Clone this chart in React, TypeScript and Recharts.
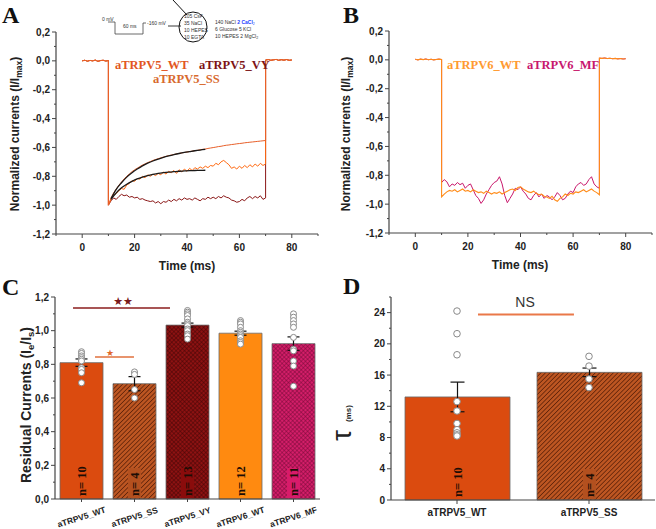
import React from 'react';
import {
  LineChart, Line, XAxis, YAxis, ComposedChart, Bar, Cell, ErrorBar, Scatter, LabelList, ReferenceLine,
} from 'recharts';

const FONT = '"Liberation Sans", Arial, sans-serif';
const SERIF = '"Liberation Serif", "Times New Roman", serif';

// ---------- Panel A / B time bases ----------
const preTimes = [0, 1, 2, 3, 4, 5, 6, 7, 8, 9, 10];
const postTimes = [70, 71, 72, 73, 74, 75, 76, 77, 78, 79, 80];
const pulseTimes = [10, 11, 12, 13, 14, 15, 16, 17, 18, 19, 20, 21, 22, 23, 24, 25, 26, 27, 28, 29, 30,
  31, 32, 33, 34, 35, 36, 37, 38, 39, 40, 41, 42, 43, 44, 45, 46, 47, 48, 49, 50,
  51, 52, 53, 54, 55, 56, 57, 58, 59, 60, 61, 62, 63, 64, 65, 66, 67, 68, 69, 70];

// ---------- Panel A traces ----------
const preA = [0.0, 0.004, -0.002, 0.003, 0.0, 0.005, -0.003, 0.002, 0.004, -0.001, 0.002];
const postA = [0.006, 0.009, 0.004, 0.007, 0.01, 0.004, 0.008, 0.005, 0.009, 0.004, 0.006];
const wt5 = [-1.0, -0.95, -0.915, -0.888, -0.862, -0.84, -0.818, -0.8, -0.784, -0.768, -0.755,
  -0.744, -0.733, -0.722, -0.714, -0.705, -0.698, -0.69, -0.684, -0.678, -0.672,
  -0.667, -0.662, -0.657, -0.653, -0.649, -0.645, -0.641, -0.638, -0.635, -0.632,
  -0.628, -0.626, -0.622, -0.62, -0.616, -0.613, -0.611, -0.607, -0.604, -0.601,
  -0.598, -0.594, -0.592, -0.588, -0.585, -0.583, -0.58, -0.578, -0.575, -0.573,
  -0.571, -0.568, -0.566, -0.564, -0.562, -0.56, -0.558, -0.556, -0.554, -0.552];
const ss5 = [-1.0, -0.96, -0.93, -0.92, -0.9, -0.885, -0.89, -0.86, -0.85, -0.83, -0.835,
  -0.815, -0.82, -0.8, -0.81, -0.79, -0.8, -0.785, -0.795, -0.78, -0.79,
  -0.77, -0.785, -0.765, -0.775, -0.76, -0.78, -0.755, -0.77, -0.75, -0.765,
  -0.745, -0.76, -0.74, -0.75, -0.735, -0.745, -0.73, -0.74, -0.725, -0.73,
  -0.71, -0.72, -0.7, -0.69, -0.705, -0.72, -0.745, -0.735, -0.75, -0.73,
  -0.745, -0.725, -0.74, -0.72, -0.735, -0.715, -0.73, -0.71, -0.725, -0.715];
const vy5 = [-1.0, -0.97, -0.95, -0.96, -0.94, -0.925, -0.935, -0.93, -0.945, -0.94, -0.95,
  -0.945, -0.96, -0.955, -0.965, -0.97, -0.975, -0.97, -0.985, -0.975, -0.99,
  -0.975, -0.98, -0.965, -0.975, -0.96, -0.97, -0.955, -0.965, -0.95, -0.96,
  -0.955, -0.965, -0.95, -0.96, -0.97, -0.955, -0.96, -0.945, -0.955, -0.945,
  -0.955, -0.94, -0.95, -0.935, -0.945, -0.95, -0.965, -0.97, -0.98, -0.975,
  -0.96, -0.97, -0.95, -0.94, -0.955, -0.94, -0.95, -0.935, -0.96, -0.95];
const fitTimesWT = [11, 13, 15, 17, 19, 21, 23, 25, 27, 29, 31, 33, 35, 37, 39, 41, 43, 45, 47];
const fitWT = [-0.955, -0.89, -0.845, -0.806, -0.776, -0.75, -0.728, -0.709, -0.694, -0.681, -0.669,
  -0.659, -0.65, -0.642, -0.635, -0.629, -0.623, -0.618, -0.614];
const fitTimesSS = [11, 13, 15, 17, 19, 21, 23, 25, 27, 29, 31, 33, 35, 37, 39, 41, 43, 45, 47];
const fitSS = [-0.96, -0.915, -0.88, -0.855, -0.835, -0.818, -0.805, -0.795, -0.787, -0.78, -0.775,
  -0.771, -0.768, -0.765, -0.763, -0.761, -0.76, -0.759, -0.758];

// ---------- Panel B traces ----------
const preB = [0.004, 0.0, 0.005, 0.002, 0.006, 0.001, 0.004, 0.0, 0.003, 0.005, 0.002];
const postB = [0.012, 0.01, 0.013, 0.009, 0.011, 0.008, 0.01, 0.007, 0.009, 0.006, 0.008];
const wt6 = [-0.95, -0.93, -0.915, -0.905, -0.91, -0.9, -0.915, -0.905, -0.895, -0.91, -0.905,
  -0.915, -0.9, -0.91, -0.92, -0.915, -0.925, -0.91, -0.92, -0.93, -0.92,
  -0.925, -0.915, -0.93, -0.92, -0.91, -0.9, -0.895, -0.905, -0.885, -0.88,
  -0.895, -0.905, -0.915, -0.92, -0.91, -0.925, -0.935, -0.93, -0.945, -0.95,
  -0.96, -0.945, -0.97, -0.98, -0.96, -0.95, -0.93, -0.94, -0.925, -0.93,
  -0.915, -0.92, -0.91, -0.9, -0.915, -0.905, -0.895, -0.91, -0.92, -0.935];
const mf6 = [-0.85, -0.83, -0.845, -0.88, -0.86, -0.87, -0.85, -0.865, -0.855, -0.89, -0.87,
  -0.86, -0.9, -0.94, -0.96, -0.995, -0.97, -0.93, -0.9, -0.87, -0.85,
  -0.84, -0.81, -0.86, -0.94, -0.99, -0.96, -0.93, -0.89, -0.9, -0.88,
  -0.91, -0.93, -0.96, -0.97, -0.94, -0.92, -0.95, -0.93, -0.96, -0.94,
  -0.95, -0.97, -0.95, -0.92, -0.94, -0.97, -0.96, -0.93, -0.91, -0.92,
  -0.88, -0.86, -0.85, -0.87, -0.86, -0.83, -0.81, -0.86, -0.88, -0.89];

// ---------- Axis ticks ----------
const currentTicks = [-1.2, -1.1, -1.0, -0.9, -0.8, -0.7, -0.6, -0.5, -0.4, -0.3, -0.2, -0.1, 0, 0.1, 0.2];
const currentMajors = [-1.2, -1.0, -0.8, -0.6, -0.4, -0.2, 0, 0.2];
const timeTicks = [-10, 0, 10, 20, 30, 40, 50, 60, 70, 80, 90];
const timeMajors = [0, 20, 40, 60, 80];
const residTicks = [0, 0.1, 0.2, 0.3, 0.4, 0.5, 0.6, 0.7, 0.8, 0.9, 1.0, 1.1, 1.2];
const residMajors = [0, 0.2, 0.4, 0.6, 0.8, 1.0, 1.2];
const tauTicks = [0, 2, 4, 6, 8, 10, 12, 14, 16, 18, 20, 22, 24, 26];
const tauMajors = [0, 4, 8, 12, 16, 20, 24];

// ---------- Panel C ----------
const catsC = ['aTRPV5_WT', 'aTRPV5_SS', 'aTRPV5_VY', 'aTRPV6_WT', 'aTRPV6_MF'];
const residMean = [0.81, 0.685, 1.033, 0.985, 0.923];
const residErr = [0.022, 0.042, 0.012, 0.012, 0.04];
const residN = ['n= 10', 'n= 4', 'n= 13', 'n= 12', 'n= 11'];
const residPts = [
  [0.875, 0.865, 0.85, 0.84, 0.83, 0.82, 0.78, 0.77, 0.75, 0.69],
  [0.755, 0.74, 0.65, 0.6],
  [1.12, 1.11, 1.1, 1.09, 1.07, 1.05, 1.04, 1.03, 1.01, 1.0, 0.98, 0.97, 0.95],
  [1.06, 1.05, 1.04, 1.02, 1.0, 0.99, 0.98, 0.97, 0.96, 0.94, 0.93, 0.92],
  [1.1, 1.08, 1.06, 1.04, 1.02, 0.96, 0.89, 0.88, 0.82, 0.79, 0.67],
];
const fillsC = ['#DB4B0F', 'url(#hatchSS)', 'url(#xhVY)', '#FF8A10', 'url(#xhMF)'];
const nBoxC = ['', '#B3501F', '#8A0C0C', '', '#D81B6A'];
const sig2 = [{ x: -0.16, y: 1.135 }, { x: 1.67, y: 1.135 }];
const sig1 = [{ x: 0.255, y: 0.844 }, { x: 0.99, y: 0.844 }];

// ---------- Panel D ----------
const catsD = ['aTRPV5_WT', 'aTRPV5_SS'];
const tauMean = [13.2, 16.35];
const tauErr = [1.9, 0.55];
const tauN = ['n= 10', 'n= 4'];
const tauPts = [
  [24.2, 21.3, 18.6, 12.6, 11.4, 9.8, 9.0, 8.6, 8.35, 8.2],
  [18.4, 17.15, 15.5, 14.4],
];
const fillsD = ['#DB4B0F', 'url(#hatchSS)'];
const nBoxD = ['', '#B3501F'];
const nsLine = [{ x: 0.159, y: 23.75 }, { x: 0.886, y: 23.75 }];

// ---------- builders ----------
const trace = (pre: number[], pulse: number[], post: number[]) => [
  ...preTimes.map((t, i) => ({ t, v: pre[i] })),
  ...pulseTimes.map((t, i) => ({ t, v: pulse[i] })),
  ...postTimes.map((t, i) => ({ t, v: post[i] })),
];
const fitData = (ts: number[], vs: number[]) => ts.map((t, i) => ({ t, v: vs[i] }));

const comma = (v: number) => (Math.abs(v) < 1e-9 ? '0,0' : v.toFixed(1).replace('.', ','));
const isIn = (arr: number[], v: number) => arr.some((m) => Math.abs(m - v) < 1e-6);

const makeYTick = (majors: number[], fmt: (v: number) => string) => (props: any) => {
  const { x, y, payload } = props;
  const major = isIn(majors, payload.value);
  return (
    <g>
      <line x1={x} y1={y} x2={x - (major ? 4 : 2)} y2={y} stroke="#444" strokeWidth={1} />
      {major && (
        <text x={x - 6} y={y} dy="0.35em" textAnchor="end" fontFamily={FONT} fontWeight="bold" fontSize={10} fill="#222">
          {fmt(payload.value)}
        </text>
      )}
    </g>
  );
};

const makeXTick = (majors: number[], fmt: (v: number) => string) => (props: any) => {
  const { x, y, payload } = props;
  const major = isIn(majors, payload.value);
  return (
    <g>
      <line x1={x} y1={y} x2={x} y2={y + (major ? 4 : 2)} stroke="#444" strokeWidth={1} />
      {major && (
        <text x={x} y={y + 17} textAnchor="middle" fontFamily={FONT} fontWeight="bold" fontSize={10} fill="#222">
          {fmt(payload.value)}
        </text>
      )}
    </g>
  );
};

const CatTickC = (props: any) => {
  const { x, y, payload } = props;
  const label = catsC[payload.value];
  return (
    <g>
      <line x1={x} y1={y} x2={x} y2={y + 3} stroke="#444" />
      <text x={x} y={y + 21} transform={`rotate(-18, ${x}, ${y + 18})`} textAnchor="middle" fontFamily={FONT} fontWeight="bold" fontSize={8.5} fill="#222">
        {label}
      </text>
    </g>
  );
};

const CatTickD = (props: any) => {
  const { x, y, payload } = props;
  return (
    <g>
      <line x1={x} y1={y} x2={x} y2={y + 4} stroke="#444" />
      <text x={x} y={y + 16} textAnchor="middle" fontFamily={FONT} fontWeight="bold" fontSize={10} fill="#222">
        {catsD[payload.value]}
      </text>
    </g>
  );
};

const makeNLabel = (boxes: string[], labels: string[]) => (props: any) => {
  const { x, y, width, height, index } = props;
  const cx = Number(x) + Number(width) / 2;
  const bottom = Number(y) + Number(height);
  const box = boxes[index];
  return (
    <g>
      {box && <rect x={cx - 6.5} y={bottom - 31} width={13} height={30} fill={box} />}
      <text
        x={cx}
        y={bottom - 3}
        transform={`rotate(-90, ${cx}, ${bottom - 3})`}
        dominantBaseline="central"
        textAnchor="start"
        fontFamily={SERIF}
        fontWeight="bold"
        fontSize={12.5}
        fill="#1e0d05"
      >
        {labels[index]}
      </text>
    </g>
  );
};

const Dot = (r: number) => (props: any) => (
  <circle cx={props.cx} cy={props.cy} r={r} fill="#ffffff" stroke="#8a8a8a" strokeWidth={1} />
);

const Patterns = () => (
  <defs>
    <pattern id="hatchSS" patternUnits="userSpaceOnUse" width="3.2" height="3.2" patternTransform="rotate(45)">
      <rect width="3.2" height="3.2" fill="#BD5622" />
      <line x1="0" y1="0" x2="0" y2="3.2" stroke="#5C2008" strokeWidth="1.5" />
    </pattern>
    <pattern id="xhVY" patternUnits="userSpaceOnUse" width="3" height="3" patternTransform="rotate(45)">
      <rect width="3" height="3" fill="#8E1212" />
      <line x1="0" y1="0" x2="0" y2="3" stroke="#3A0404" strokeWidth="0.9" />
      <line x1="0" y1="0" x2="3" y2="0" stroke="#3A0404" strokeWidth="0.9" />
    </pattern>
    <pattern id="xhMF" patternUnits="userSpaceOnUse" width="3" height="3" patternTransform="rotate(45)">
      <rect width="3" height="3" fill="#D41E69" />
      <line x1="0" y1="0" x2="0" y2="3" stroke="#6E0832" strokeWidth="0.9" />
      <line x1="0" y1="0" x2="3" y2="0" stroke="#6E0832" strokeWidth="0.9" />
    </pattern>
  </defs>
);

const axisLine = { stroke: '#444', strokeWidth: 1.2 };
const YW = 30; // y-axis box width
const XH = 24; // x-axis box height

export default function App() {
  const dataC = catsC.map((c, i) => ({ x: i, v: residMean[i], err: residErr[i], n: residN[i] }));
  const dotsC = residPts.flatMap((arr, i) => arr.map((v) => ({ x: i, v })));
  const dataD = catsD.map((c, i) => ({ x: i, v: tauMean[i], err: tauErr[i], n: tauN[i] }));
  const dotsD = tauPts.flatMap((arr, i) => arr.map((v) => ({ x: i, v })));

  const ytA = makeYTick(currentMajors, comma);
  const xtA = makeXTick(timeMajors, (v) => String(v));
  const ytC = makeYTick(residMajors, comma);
  const ytD = makeYTick(tauMajors, (v) => String(v));

  return (
    <div style={{ position: 'absolute', left: 0, top: 0, width: 656, height: 529, background: '#fff', overflow: 'hidden' }}>
      {/* Panel A */}
      <div style={{ position: 'absolute', left: 0, top: 0 }}>
        <LineChart width={330} height={280} margin={{ top: 32, right: 12, bottom: 46 - XH, left: 56 - YW }}>
          <XAxis type="number" dataKey="t" domain={[-10, 90]} ticks={timeTicks} interval={0} height={XH}
            tickSize={0} tickMargin={0} tickLine={false} tick={xtA} axisLine={axisLine} allowDataOverflow />
          <YAxis type="number" domain={[-1.2, 0.2]} ticks={currentTicks} interval={0} width={YW}
            tickSize={0} tickMargin={0} tickLine={false} tick={ytA} axisLine={axisLine} allowDataOverflow />
          <Line data={trace(preA, vy5, postA)} dataKey="v" type="linear" stroke="#8A1616" strokeWidth={1} dot={false} isAnimationActive={false} />
          <Line data={trace(preA, ss5, postA)} dataKey="v" type="linear" stroke="#FF6A12" strokeWidth={1} dot={false} isAnimationActive={false} />
          <Line data={trace(preA, wt5, postA)} dataKey="v" type="linear" stroke="#E8602A" strokeWidth={1} dot={false} isAnimationActive={false} />
          <Line data={fitData(fitTimesWT, fitWT)} dataKey="v" type="monotone" stroke="#1a1a1a" strokeWidth={1.3} dot={false} isAnimationActive={false} />
          <Line data={fitData(fitTimesSS, fitSS)} dataKey="v" type="monotone" stroke="#1a1a1a" strokeWidth={1.3} dot={false} isAnimationActive={false} />
        </LineChart>
      </div>

      {/* Panel B */}
      <div style={{ position: 'absolute', left: 330, top: 0 }}>
        <LineChart width={326} height={280} margin={{ top: 31, right: 4, bottom: 47 - XH, left: 59 - YW }}>
          <XAxis type="number" dataKey="t" domain={[-10, 90]} ticks={timeTicks} interval={0} height={XH}
            tickSize={0} tickMargin={0} tickLine={false} tick={xtA} axisLine={axisLine} allowDataOverflow />
          <YAxis type="number" domain={[-1.2, 0.2]} ticks={currentTicks} interval={0} width={YW}
            tickSize={0} tickMargin={0} tickLine={false} tick={ytA} axisLine={axisLine} allowDataOverflow />
          <Line data={trace(preB, mf6, postB)} dataKey="v" type="linear" stroke="#C9186C" strokeWidth={1} dot={false} isAnimationActive={false} />
          <Line data={trace(preB, wt6, postB)} dataKey="v" type="linear" stroke="#FF8C1A" strokeWidth={1.1} dot={false} isAnimationActive={false} />
        </LineChart>
      </div>

      {/* Panel C */}
      <div style={{ position: 'absolute', left: 0, top: 280 }}>
        <ComposedChart width={330} height={249} data={dataC} margin={{ top: 17, right: 10, bottom: 30 - XH, left: 55 - YW }}>
          <Patterns />
          <XAxis type="number" dataKey="x" domain={[-0.5, 4.5]} ticks={[0, 1, 2, 3, 4]} interval={0} height={XH}
            tickSize={0} tickMargin={0} tickLine={false} tick={CatTickC} axisLine={axisLine} />
          <YAxis type="number" dataKey="v" domain={[0, 1.2]} ticks={residTicks} interval={0} width={YW}
            tickSize={0} tickMargin={0} tickLine={false} tick={ytC} axisLine={axisLine} />
          <Bar dataKey="v" barSize={43} stroke="#6a6a6a" strokeWidth={0.8} isAnimationActive={false}>
            {dataC.map((d, i) => <Cell key={i} fill={fillsC[i]} />)}
            <ErrorBar dataKey="err" width={6} stroke="#111" strokeWidth={1.2} direction="y" />
            <LabelList dataKey="n" content={makeNLabel(nBoxC, residN)} />
          </Bar>
          <Scatter data={dotsC} dataKey="v" shape={Dot(3)} isAnimationActive={false} />
          <ReferenceLine segment={sig2} stroke="#8B1C1C" strokeWidth={1.6} />
          <ReferenceLine segment={sig1} stroke="#E0703C" strokeWidth={1.6} />
        </ComposedChart>
      </div>

      {/* Panel D */}
      <div style={{ position: 'absolute', left: 330, top: 280 }}>
        <ComposedChart width={326} height={249} data={dataD} margin={{ top: 17, right: 1, bottom: 29 - XH, left: 61 - YW }}>
          <Patterns />
          <XAxis type="number" dataKey="x" domain={[-0.5, 1.5]} ticks={[0, 1]} interval={0} height={XH}
            tickSize={0} tickMargin={0} tickLine={false} tick={CatTickD} axisLine={axisLine} />
          <YAxis type="number" dataKey="v" domain={[0, 26]} ticks={tauTicks} interval={0} width={YW}
            tickSize={0} tickMargin={0} tickLine={false} tick={ytD} axisLine={axisLine} />
          <Bar dataKey="v" barSize={105} stroke="#6a6a6a" strokeWidth={0.8} isAnimationActive={false}>
            {dataD.map((d, i) => <Cell key={i} fill={fillsD[i]} />)}
            <ErrorBar dataKey="err" width={7} stroke="#111" strokeWidth={1.2} direction="y" />
            <LabelList dataKey="n" content={makeNLabel(nBoxD, tauN)} />
          </Bar>
          <Scatter data={dotsD} dataKey="v" shape={Dot(3.3)} isAnimationActive={false} />
          <ReferenceLine segment={nsLine} stroke="#EA7848" strokeWidth={2} />
        </ComposedChart>
      </div>

      {/* Text overlay */}
      <svg width={656} height={529} style={{ position: 'absolute', left: 0, top: 0, pointerEvents: 'none' }}>
        <g fontFamily={SERIF} fontWeight="bold" fontSize={24} fill="#111">
          <text x={2} y={23}>A</text>
          <text x={343} y={23}>B</text>
          <text x={2} y={295}>C</text>
          <text x={343} y={294}>D</text>
        </g>
        {/* axis titles */}
        <g fontFamily={FONT} fontWeight="bold" fill="#222">
          <text transform="translate(19,134) rotate(-90)" textAnchor="middle" fontSize={12}>
            Normalized currents (I/I<tspan fontSize={8.5} dy={3}>max</tspan><tspan dy={-3}>)</tspan>
          </text>
          <text transform="translate(350,134) rotate(-90)" textAnchor="middle" fontSize={12}>
            Normalized currents (I/I<tspan fontSize={8.5} dy={3}>max</tspan><tspan dy={-3}>)</tspan>
          </text>
          <text x={187} y={270} textAnchor="middle" fontSize={12}>Time (ms)</text>
          <text x={520} y={269} textAnchor="middle" fontSize={12}>Time (ms)</text>
          <text transform="translate(31,405) rotate(-90)" textAnchor="middle" fontSize={14}>
            Residual Currents (I<tspan fontSize={9.5} dy={3}>e</tspan><tspan dy={-3}>/I</tspan><tspan fontSize={9.5} dy={3}>s</tspan><tspan dy={-3}>)</tspan>
          </text>
          <text transform="translate(351,441) rotate(-90)" textAnchor="start">
            <tspan fontSize={28} fontWeight="normal">τ</tspan>
            <tspan fontSize={8} dx={8}>(ms)</tspan>
          </text>
        </g>
        {/* series labels */}
        <g fontFamily={SERIF} fontWeight="bold" fontSize={12.5}>
          <text x={115} y={69} fill="#E2571E">aTRPV5_WT</text>
          <text x={199} y={69} fill="#7D1416">aTRPV5_VY</text>
          <text x={153} y={83} fill="#D86A2E">aTRPV5_SS</text>
          <text x={447} y={69} fill="#FF9A30">aTRPV6_WT</text>
          <text x={527} y={69} fill="#C8186E">aTRPV6_MF</text>
        </g>
        {/* significance */}
        <text x={123} y={305} textAnchor="middle" fontFamily='"DejaVu Sans", sans-serif' fontSize={11} fill="#7A1A1A">★★</text>
        <text x={110} y={356} textAnchor="middle" fontFamily='"DejaVu Sans", sans-serif' fontSize={9} fill="#E0682C">★</text>
        <text x={525} y={307} textAnchor="middle" fontFamily={FONT} fontSize={14} fill="#333">NS</text>
        {/* protocol / solution inset */}
        <g fontFamily={FONT} fontSize={5} fill="#333">
          <text x={102} y={21}>0 mV</text>
          <polyline points="108,22 115,22 115,34 143,34 143,23 146,23" fill="none" stroke="#444" strokeWidth={0.8} />
          <text x={123} y={28}>60 ms</text>
          <text x={147} y={25}>-160 mV</text>
          <line x1={168} y1={26} x2={181} y2={26} stroke="#222" strokeWidth={0.9} />
          <line x1={173} y1={0} x2={187} y2={15} stroke="#111" strokeWidth={1} />
          <ellipse cx={193} cy={27} rx={14} ry={15} fill="none" stroke="#111" strokeWidth={1} />
          <text x={184} y={18}>105 CsF</text>
          <text x={184} y={25}>35 NaCl</text>
          <text x={184} y={32}>10 HEPES</text>
          <text x={184} y={39}>10 EGTA</text>
          <text x={215} y={24}>140 NaCl <tspan fill="#1a3cff" fontWeight="bold">2 CaCl</tspan><tspan fill="#1a3cff" fontSize={3.5} dy={1}>2</tspan></text>
          <text x={215} y={31}>6 Glucose  5 KCl</text>
          <text x={215} y={38}>10 HEPES 2 MgCl<tspan fontSize={3.5} dy={1}>2</tspan></text>
        </g>
      </svg>
    </div>
  );
}
